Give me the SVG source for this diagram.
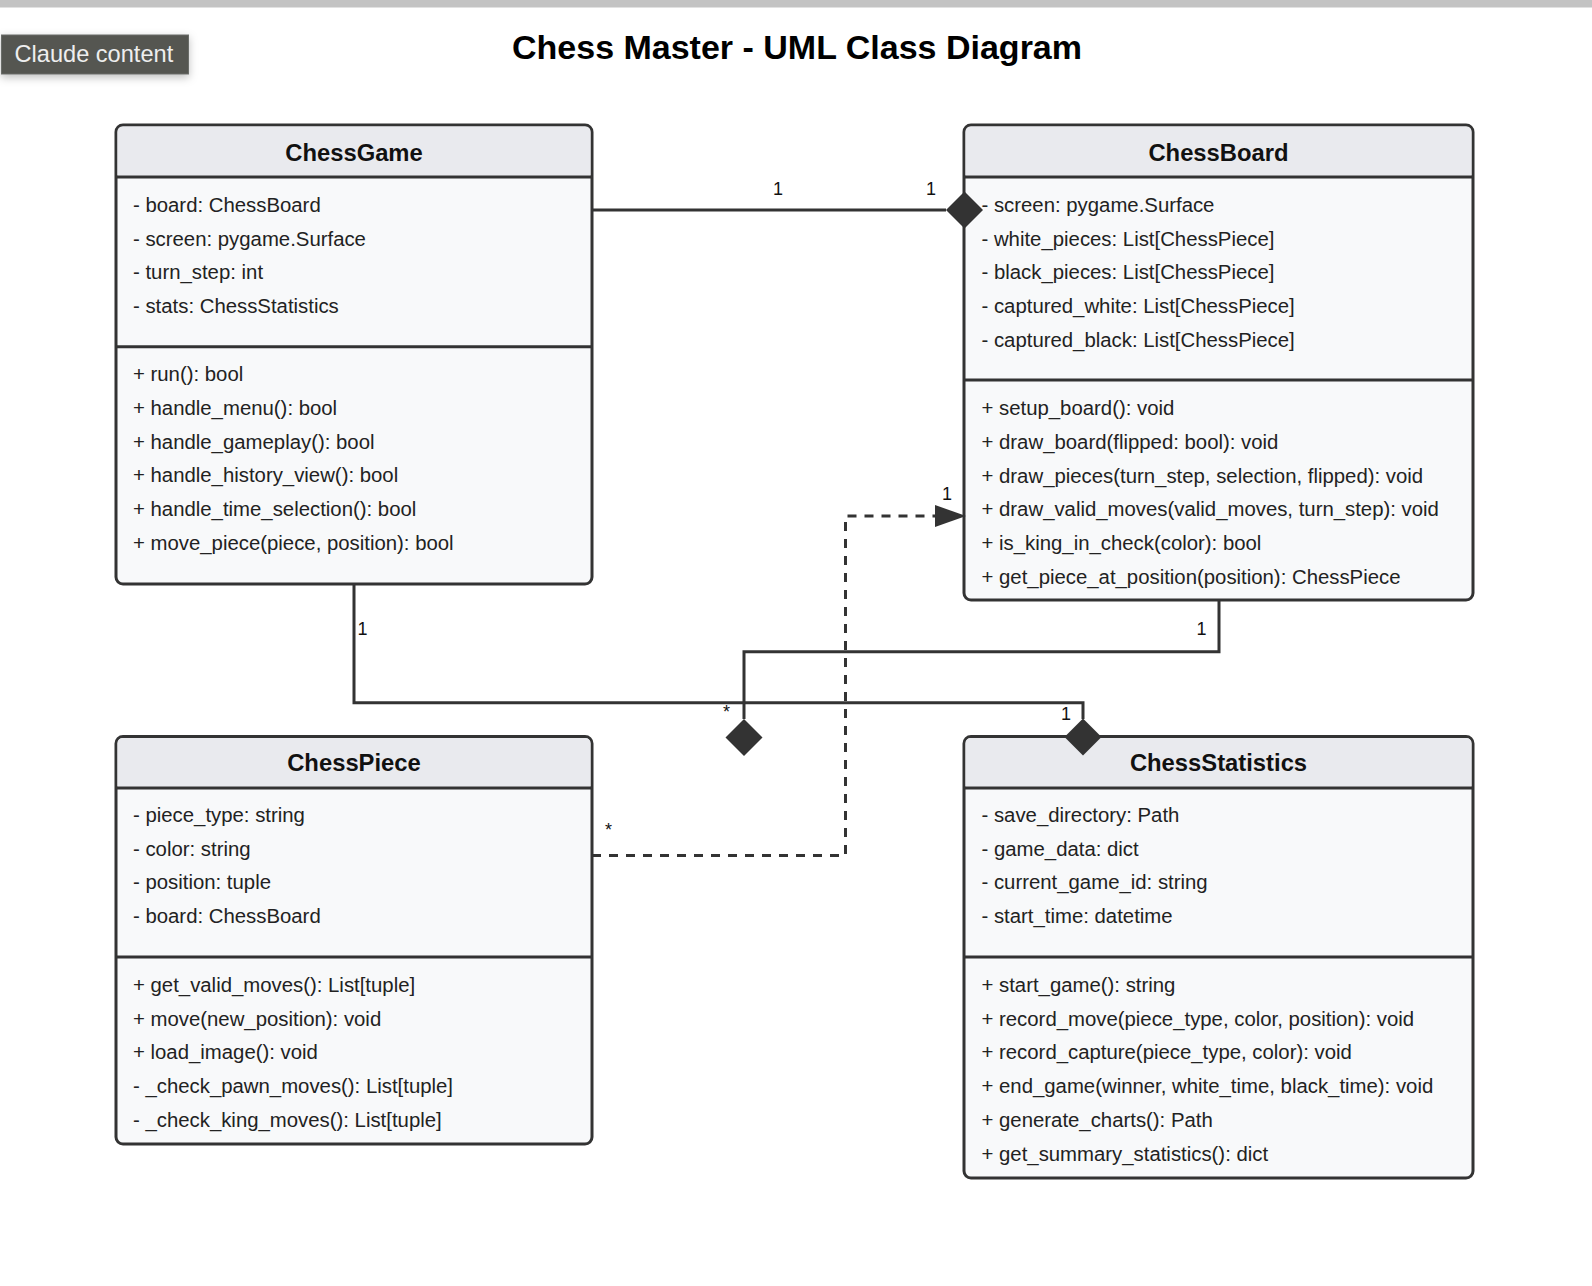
<svg xmlns="http://www.w3.org/2000/svg" width="1592" height="1286" viewBox="0 0 1592 1286">
<defs>
<style>
.box{fill:#f8f9fa;stroke:#333;stroke-width:3}
.hdr{fill:#e9eaee}
.sep{stroke:#333;stroke-width:3;fill:none}
.ttl{font-family:"Liberation Sans",Arial,sans-serif;font-size:23.8px;font-weight:bold;fill:#111;text-anchor:middle}
.mem{font-family:"Liberation Sans",Arial,sans-serif;font-size:20.35px;fill:#222}
.conn{stroke:#333;stroke-width:3;fill:none}
.dash{stroke:#333;stroke-width:3;fill:none;stroke-dasharray:9 8}
.lbl{font-family:"Liberation Sans",Arial,sans-serif;font-size:18px;fill:#111;text-anchor:middle}
.dia{fill:#333}
</style>
<marker id="arrow" markerUnits="userSpaceOnUse" markerWidth="31" markerHeight="22" viewBox="0 0 31 22" refX="31" refY="11" orient="auto">
<path d="M0,0 L31,11 L0,22 Z" fill="#333"/>
</marker>
<filter id="shadow" x="-20%" y="-40%" width="140%" height="200%">
<feDropShadow dx="0" dy="3" stdDeviation="4" flood-color="#000" flood-opacity="0.25"/>
</filter>
</defs>
<rect x="0" y="0" width="1592" height="1286" fill="#ffffff"/>
<rect x="0" y="0" width="1592" height="7.5" fill="#c3c3c3"/>
<g id="badge">
<rect x="1.5" y="35" width="187" height="39" fill="#545651" stroke="#6b6d69" stroke-width="1" filter="url(#shadow)"/>
<text x="14.5" y="61.5" font-family="'Liberation Sans',Arial,sans-serif" font-size="23.6px" fill="#eeeeee">Claude content</text>
</g>
<text id="title" x="797" y="59" font-family="'Liberation Sans',Arial,sans-serif" font-size="34px" font-weight="bold" fill="#000" text-anchor="middle">Chess Master - UML Class Diagram</text>

<g id="ChessGame">
<rect class="box" x="116" y="125" width="476" height="459" rx="7"/>
<path class="hdr" d="M123,126.5 H585 Q590.5,126.5 590.5,132 V175.5 H117.5 V132 Q117.5,126.5 123,126.5 Z"/>
<line class="sep" x1="116" y1="177" x2="592" y2="177"/>
<line class="sep" x1="116" y1="346.7" x2="592" y2="346.7"/>
<text class="ttl" x="354" y="160.7">ChessGame</text>
<text class="mem" x="133" y="211.7">- board: ChessBoard</text>
<text class="mem" x="133" y="245.5">- screen: pygame.Surface</text>
<text class="mem" x="133" y="279.3">- turn_step: int</text>
<text class="mem" x="133" y="313.1">- stats: ChessStatistics</text>
<text class="mem" x="133" y="380.7">+ run(): bool</text>
<text class="mem" x="133" y="414.6">+ handle_menu(): bool</text>
<text class="mem" x="133" y="448.5">+ handle_gameplay(): bool</text>
<text class="mem" x="133" y="482.4">+ handle_history_view(): bool</text>
<text class="mem" x="133" y="516.3">+ handle_time_selection(): bool</text>
<text class="mem" x="133" y="550.2">+ move_piece(piece, position): bool</text>
</g>

<g id="ChessBoard">
<rect class="box" x="964" y="125" width="509" height="475" rx="7"/>
<path class="hdr" d="M971,126.5 H1466 Q1471.5,126.5 1471.5,132 V175.5 H965.5 V132 Q965.5,126.5 971,126.5 Z"/>
<line class="sep" x1="964" y1="177" x2="1473" y2="177"/>
<line class="sep" x1="964" y1="380" x2="1473" y2="380"/>
<text class="ttl" x="1218.5" y="160.7">ChessBoard</text>
<text class="mem" x="981.5" y="211.7">- screen: pygame.Surface</text>
<text class="mem" x="981.5" y="245.5">- white_pieces: List[ChessPiece]</text>
<text class="mem" x="981.5" y="279.3">- black_pieces: List[ChessPiece]</text>
<text class="mem" x="981.5" y="313.1">- captured_white: List[ChessPiece]</text>
<text class="mem" x="981.5" y="346.9">- captured_black: List[ChessPiece]</text>
<text class="mem" x="981.5" y="415">+ setup_board(): void</text>
<text class="mem" x="981.5" y="448.8">+ draw_board(flipped: bool): void</text>
<text class="mem" x="981.5" y="482.6">+ draw_pieces(turn_step, selection, flipped): void</text>
<text class="mem" x="981.5" y="516.4">+ draw_valid_moves(valid_moves, turn_step): void</text>
<text class="mem" x="981.5" y="550.2">+ is_king_in_check(color): bool</text>
<text class="mem" x="981.5" y="584">+ get_piece_at_position(position): ChessPiece</text>
</g>

<g id="ChessPiece">
<rect class="box" x="116" y="736.5" width="476" height="407.5" rx="7"/>
<path class="hdr" d="M123,738 H585 Q590.5,738 590.5,743.5 V786.5 H117.5 V743.5 Q117.5,738 123,738 Z"/>
<line class="sep" x1="116" y1="788" x2="592" y2="788"/>
<line class="sep" x1="116" y1="957" x2="592" y2="957"/>
<text class="ttl" x="354" y="770.7">ChessPiece</text>
<text class="mem" x="133" y="821.7">- piece_type: string</text>
<text class="mem" x="133" y="855.5">- color: string</text>
<text class="mem" x="133" y="889.3">- position: tuple</text>
<text class="mem" x="133" y="923.1">- board: ChessBoard</text>
<text class="mem" x="133" y="991.7">+ get_valid_moves(): List[tuple]</text>
<text class="mem" x="133" y="1025.5">+ move(new_position): void</text>
<text class="mem" x="133" y="1059.3">+ load_image(): void</text>
<text class="mem" x="133" y="1093.1">- _check_pawn_moves(): List[tuple]</text>
<text class="mem" x="133" y="1126.9">- _check_king_moves(): List[tuple]</text>
</g>

<g id="ChessStatistics">
<rect class="box" x="964" y="736.5" width="509" height="441.5" rx="7"/>
<path class="hdr" d="M971,738 H1466 Q1471.5,738 1471.5,743.5 V786.5 H965.5 V743.5 Q965.5,738 971,738 Z"/>
<line class="sep" x1="964" y1="788" x2="1473" y2="788"/>
<line class="sep" x1="964" y1="957" x2="1473" y2="957"/>
<text class="ttl" x="1218.5" y="770.7">ChessStatistics</text>
<text class="mem" x="981.5" y="821.7">- save_directory: Path</text>
<text class="mem" x="981.5" y="855.5">- game_data: dict</text>
<text class="mem" x="981.5" y="889.3">- current_game_id: string</text>
<text class="mem" x="981.5" y="923.1">- start_time: datetime</text>
<text class="mem" x="981.5" y="991.7">+ start_game(): string</text>
<text class="mem" x="981.5" y="1025.5">+ record_move(piece_type, color, position): void</text>
<text class="mem" x="981.5" y="1059.3">+ record_capture(piece_type, color): void</text>
<text class="mem" x="981.5" y="1093.1">+ end_game(winner, white_time, black_time): void</text>
<text class="mem" x="981.5" y="1126.9">+ generate_charts(): Path</text>
<text class="mem" x="981.5" y="1160.7">+ get_summary_statistics(): dict</text>
</g>

<g id="connectors">
<path class="conn" d="M592,210 H946"/>
<path class="dia" d="M964.5,191.5 L983,210 L964.5,228.5 L946,210 Z"/>
<text class="lbl" x="778" y="195">1</text>
<text class="lbl" x="931" y="195">1</text>

<path class="conn" d="M354,584 V702.7 H1083 V719"/>
<path class="dia" d="M1083,718.5 L1101.5,737 L1083,755.5 L1064.5,737 Z"/>
<text class="lbl" x="362.5" y="635">1</text>
<text class="lbl" x="1066" y="720">1</text>

<path class="conn" d="M1219,600 V651.7 H744 V719"/>
<path class="dia" d="M744,719 L762.5,737.5 L744,756 L725.5,737.5 Z"/>
<text class="lbl" x="1201.5" y="635">1</text>
<text class="lbl" x="726.5" y="718" font-size="16px">*</text>

<path class="dash" d="M592,855.5 H845.5 V516 H966" marker-end="url(#arrow)"/>
<text class="lbl" x="947" y="500">1</text>
<text class="lbl" x="608.5" y="836" font-size="16px">*</text>
</g>
</svg>
